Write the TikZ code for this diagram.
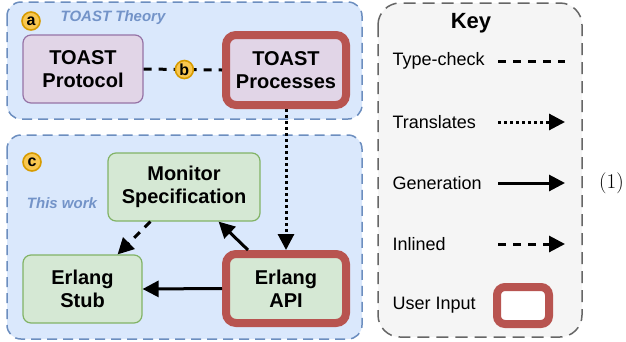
\documentclass[tikz,border=0pt]{standalone}
\usepackage{fontspec}
\setmainfont{Liberation Sans}
\newfontfamily\lmfont{Latin Modern Roman}
\usetikzlibrary{arrows.meta,calc}

\definecolor{groupfill}{HTML}{DAE8FC}
\definecolor{groupline}{HTML}{6C8EBF}
\definecolor{grouptext}{HTML}{7393C8}
\definecolor{purplefill}{HTML}{E1D5E7}
\definecolor{purpleline}{HTML}{9673A6}
\definecolor{greenfill}{HTML}{D5E8D4}
\definecolor{greenline}{HTML}{82B366}
\definecolor{userline}{HTML}{B85450}
\definecolor{keyfill}{HTML}{F5F5F5}
\definecolor{keyline}{HTML}{666666}
\definecolor{markfill}{HTML}{F9C74F}
\definecolor{markline}{HTML}{D79B00}

\tikzset{
  group/.style={draw=groupline, fill=groupfill, line width=1.5pt,
    dash pattern=on 10pt off 6pt, rounded corners=14pt},
  box/.style={rounded corners=8pt, line width=1.2pt, align=center,
    font=\fontsize{20}{23}\selectfont\bfseries, inner sep=0pt},
  protobox/.style={box, draw=purpleline, fill=purplefill},
  workbox/.style={box, draw=greenline, fill=greenfill},
  userbox/.style={line width=8pt, draw=userline, rounded corners=10pt},
  stepmark/.style={circle, draw=markline, fill=markfill, line width=1.6pt,
    inner sep=0pt, minimum size=18pt, font=\fontsize{16}{16}\selectfont\bfseries},
  grouplabel/.style={text=grouptext, font=\fontsize{15}{15}\selectfont\bfseries\itshape},
  conn/.style={line width=3pt},
  tip/.style={-{Triangle[length=16pt,width=16pt]}},
  typecheck/.style={conn, dash pattern=on 8pt off 7pt},
  translates/.style={conn, tip, dash pattern=on 3pt off 3pt},
  generation/.style={conn, tip},
  inlined/.style={conn, tip, dash pattern=on 8pt off 7pt},
  keytext/.style={anchor=west, font=\fontsize{18}{18}\selectfont},
}

\begin{document}
\begin{tikzpicture}[x=1pt,y=-1pt]
\useasboundingbox (0,0) rectangle (626,341);

% groups
\path[group] (7,2) rectangle (362,119);
\path[group] (7,135) rectangle (362,339);
\path[draw=keyline, fill=keyfill, line width=1.5pt, dash pattern=on 12pt off 7pt,
  rounded corners=22pt] (378,3) rectangle (582,337);

\node[stepmark] (ma) at (31,21) {a};
\node[grouplabel] (theory) at (113,18) {TOAST Theory};
\node[stepmark] (mc) at (32,162) {c};
\node[grouplabel] (work) at (62,203) {This work};

% nodes
\node[protobox, minimum width=120pt, minimum height=68pt] (proto) at (83,69) {TOAST\\Protocol};
\node[protobox, userbox, minimum width=120pt, minimum height=70pt] (procs) at (286,70) {TOAST\\Processes};
\node[workbox, minimum width=152pt, minimum height=68pt] (mon) at (184,187) {Monitor\\Specification};
\node[workbox, minimum width=119pt, minimum height=68pt] (stub) at (82.5,289) {Erlang\\Stub};
\node[workbox, userbox, minimum width=120pt, minimum height=69pt] (api) at (286,288.5) {Erlang\\API};

% connectors
\draw[typecheck] (proto.east) -- (procs.west);
\node[stepmark] (mb) at ($(proto.east)!0.52!(procs.west)$) {b};
\draw[translates] (procs.south) -- (api.north);
\draw[generation] (api.west) -- (stub.east);
\draw[generation] ($(api.north west)+(26,0)$) -- ($(mon.south east)+(-42,0)$);
\draw[inlined] ($(mon.south west)+(43,0)$) -- ($(stub.north east)+(-25,0)$);

% key
\node[font=\fontsize{22}{22}\selectfont\bfseries] (keyhead) at (471,23) {Key};
\node[keytext] (k1) at (389,61) {Type-check};
\node[keytext] (k2) at (389,122) {Translates};
\node[keytext] (k3) at (389,183) {Generation};
\node[keytext] (k4) at (389,244) {Inlined};
\node[keytext] (k5) at (389,305) {User Input};
\coordinate (k1a) at (498,61);  \coordinate (k1b) at (565,61);
\coordinate (k2a) at (498,122); \coordinate (k2b) at (565,122);
\coordinate (k3a) at (498,183); \coordinate (k3b) at (565,183);
\coordinate (k4a) at (498,244); \coordinate (k4b) at (565,244);
\draw[typecheck] (k1a) -- (k1b);
\draw[translates] (k2a) -- (k2b);
\draw[generation] (k3a) -- (k3b);
\draw[inlined] (k4a) -- (k4b);
\node[userbox, fill=white, minimum width=52pt, minimum height=37pt, rounded corners=8pt] (k5box) at (523,305.5) {};

% equation number
\node[anchor=west, inner sep=0pt, font=\lmfont\fontsize{21}{21}\selectfont] (eqno) at (599,183) {(1)};
\end{tikzpicture}
\end{document}
